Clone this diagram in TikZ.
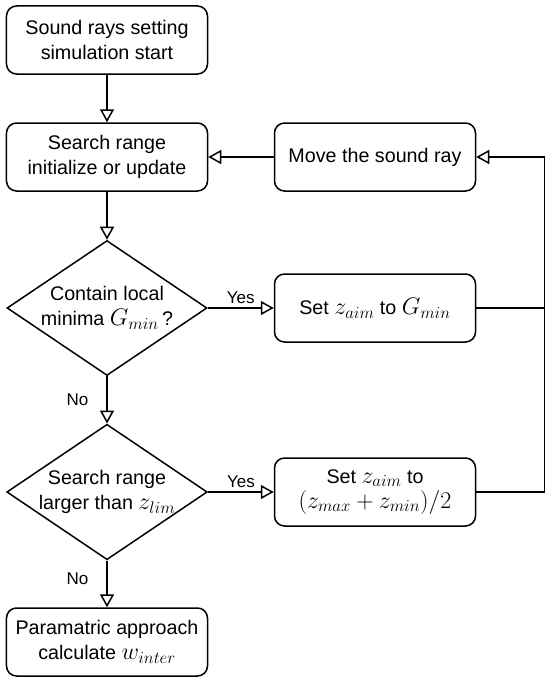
\documentclass[tikz,border=0pt]{standalone}
\usepackage{fix-cm}
\usepackage{amsmath}
\usepackage[no-math]{fontspec}
\setmainfont{Liberation Sans}
\usetikzlibrary{positioning, arrows.meta, shapes.geometric}
\newcommand{\mth}[1]{{\fontsize{24bp}{25bp}\selectfont$#1$}}

\begin{document}
\begin{tikzpicture}[node distance=3.5cm,on grid,auto,line width=1.5bp,
       >={Triangle[open,length=13bp,width=14bp]},
       every node/.style={font=\fontsize{19.7bp}{25bp}\selectfont},
       box/.style={draw,rounded corners=10bp,minimum width=201bp,minimum height=68bp,align=center,inner sep=2bp},
       cond/.style={draw,diamond,aspect=1.48,minimum width=200bp,minimum height=135bp,inner sep=0pt,align=center},
       lbl/.style={font=\fontsize{17bp}{20bp}\selectfont},
       nolbl/.style={lbl,swap,inner sep=18bp}]
       \useasboundingbox (-107bp,40bp) rectangle (443bp,-642bp);

       \node[box] (S) {Sound rays setting\\simulation start};
       \node[box] (R) [below=117bp of S] {Search range\\initialize or update};
       \node[cond] (C) [below=151bp of R] {Contain local\\minima \mth{G_{min}}\,?};
       \node[cond] (L) [below=184bp of C] {Search range\\larger than \mth{z_{lim}}};
       \node[box] (P) [below=150bp of L] {Paramatric approach\\calculate \mth{w_{inter}}};
       \node[box] (M) [right=268bp of R] {Move the sound ray};
       \node[box] (G) [right=268bp of C] {Set \mth{z_{aim}} to \mth{G_{min}}};
       \node[box] (H) [right=268bp of L] {Set \mth{z_{aim}} to\\\mth{(z_{max}+z_{min})/2}};
       \coordinate[right=68bp of M.east] (T);

       \path[->]
       (S) edge (R)
       (R) edge (C)
       (C) edge node [nolbl] {No} (L)
           edge node [lbl] {Yes} (G)
       (L) edge node [nolbl,pos=0.4] {No} (P)
           edge node [lbl] {Yes} (H)
       (M) edge (R);

       % feedback to the sound ray
       \draw (G.east) -- (G.east -| T);
       \draw[->] (H.east) -| (T) -- (M.east);
    \end{tikzpicture}
\end{document}
